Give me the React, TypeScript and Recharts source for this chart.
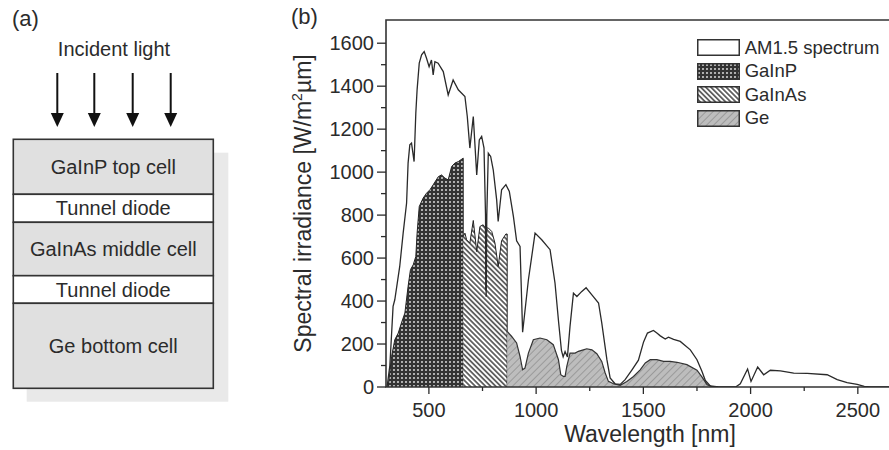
import * as React from 'react';
import {
	ComposedChart,
	Area,
	Line,
	XAxis,
	YAxis,
	ReferenceArea,
	Legend
} from 'recharts';

// AM1.5 spectrum (wavelength in nm, irradiance in W/m2um)
const amWavelength = [
	305, 318, 333, 341, 364, 380, 396, 403, 411, 419, 431, 439, 445, 455, 466,
	478, 489, 501, 512, 520, 528, 543, 567, 590, 613, 637, 668, 679, 691, 707,
	723, 735, 746, 757, 764, 767, 770, 777, 788, 800, 816, 823, 839, 859, 875,
	894, 909, 925, 937, 964, 995, 1026, 1065, 1088, 1105, 1118, 1126, 1135,
	1146, 1158, 1174, 1190, 1213, 1233, 1260, 1291, 1306, 1330, 1345, 1368,
	1392, 1415, 1447, 1477, 1501, 1519, 1547, 1563, 1579, 1602, 1617, 1641,
	1672, 1719, 1750, 1773, 1789, 1812, 1850, 1930, 1952, 1986, 2002, 2033,
	2061, 2092, 2139, 2201, 2264, 2357, 2404, 2450, 2497, 2530, 2560, 2650
];
const amIrradiance = [
	0, 100, 375, 406, 561, 716, 856, 1042, 1127, 1135, 1049, 1274, 1383, 1507,
	1546, 1561, 1530, 1491, 1522, 1452, 1514, 1507, 1468, 1359, 1429, 1383,
	1352, 1259, 1112, 1259, 987, 1150, 1166, 1112, 800, 420, 800, 1088, 1073,
	1011, 871, 770, 918, 942, 910, 794, 680, 654, 255, 499, 716, 685, 639, 484,
	300, 170, 140, 165, 140, 282, 437, 421, 445, 462, 429, 391, 298, 127, 42,
	15, 12, 34, 80, 125, 210, 251, 263, 251, 238, 223, 232, 222, 212, 173, 127,
	73, 30, 5, 0, 0, 15, 84, 26, 93, 57, 78, 75, 65, 63, 57, 34, 20, 12, 3, 0, 0
];

// GaInP top cell share
const gainpWavelength = [
	310, 326, 341, 357, 372, 388, 403, 414, 427, 439, 445, 455, 473, 489, 505,
	520, 544, 559, 575, 590, 606, 621, 637, 660, 660
];
const gainpIrradiance = [
	0, 142, 220, 251, 298, 344, 468, 546, 569, 607, 716, 840, 879, 902, 918,
	941, 979, 987, 972, 964, 1026, 1042, 1049, 1065, 0
];

// GaInAs middle cell share
const gainasWavelength = [
	660, 668, 676, 691, 707, 723, 738, 753, 763, 766, 769, 777, 793, 808, 823,
	839, 859, 865, 865
];
const gainasIrradiance = [
	700, 716, 685, 670, 775, 630, 747, 755, 740, 450, 740, 740, 724, 670, 561,
	681, 712, 712, 0
];

// Ge bottom cell share
const geWavelength = [
	865, 886, 909, 925, 937, 948, 964, 987, 1018, 1050, 1080, 1104, 1115, 1127,
	1135, 1143, 1158, 1182, 1197, 1220, 1236, 1260, 1283, 1306, 1322, 1337,
	1361, 1392, 1423, 1454, 1485, 1509, 1532, 1563, 1594, 1625, 1657, 1703,
	1750, 1773, 1797, 1820, 1850
];
const geIrradiance = [
	259, 235, 205, 142, 80, 88, 158, 220, 228, 220, 197, 127, 57, 49, 49, 96,
	158, 158, 166, 173, 178, 173, 155, 119, 65, 26, 15, 8, 26, 49, 80, 112,
	127, 127, 119, 119, 115, 104, 78, 47, 11, 2, 0
];

const xTicks = [500, 750, 1000, 1250, 1500, 1750, 2000, 2250, 2500];
const yTicks = [
	0, 100, 200, 300, 400, 500, 600, 700, 800, 900, 1000, 1100, 1200, 1300,
	1400, 1500, 1600
];

const legendItems = [
	{ name: 'AM1.5 spectrum', fill: '#fff' },
	{ name: 'GaInP', fill: 'url(#patGaInP)' },
	{ name: 'GaInAs', fill: 'url(#patGaInAs)' },
	{ name: 'Ge', fill: 'url(#patGe)' }
];

const cellLayers = [
	{ label: 'GaInP top cell', top: 139.3, bottom: 194.3, fill: '#e0e0e0' },
	{ label: 'Tunnel diode', top: 194.3, bottom: 222.3, fill: '#fff' },
	{ label: 'GaInAs middle cell', top: 222.3, bottom: 275.7, fill: '#e0e0e0' },
	{ label: 'Tunnel diode', top: 275.7, bottom: 303.3, fill: '#fff' },
	{ label: 'Ge bottom cell', top: 303.3, bottom: 388.3, fill: '#e0e0e0' }
];
const arrowX = [57.3, 94.3, 132.7, 170.7];

const toRows = (wl: number[], val: number[]) =>
	wl.map((w, i) => ({ wl: w, val: val[i] }));

const amRows = toRows(amWavelength, amIrradiance);
const gainpRows = toRows(gainpWavelength, gainpIrradiance);
const gainasRows = toRows(gainasWavelength, gainasIrradiance);
const geRows = toRows(geWavelength, geIrradiance);

const FONT = '"Liberation Sans", Arial, Helvetica, sans-serif';
const INK = '#2b2b2b';

const renderXTick = (props: any) => {
	const { x, y, payload } = props;
	const major = payload.value % 500 === 0;
	return (
		<g>
			<line x1={x} y1={y} x2={x} y2={y + (major ? 7 : 4)} stroke={INK} strokeWidth={1.3} />
			{major && (
				<text x={x} y={y + 29.5} textAnchor="middle" fontSize={20} fill={INK} fontFamily={FONT}>
					{payload.value}
				</text>
			)}
		</g>
	);
};

const renderYTick = (props: any) => {
	const { x, y, payload } = props;
	const major = payload.value % 200 === 0;
	return (
		<g>
			<line x1={x} y1={y} x2={x - (major ? 9 : 5)} y2={y} stroke={INK} strokeWidth={1.3} />
			{major && (
				<text x={x - 12} y={y} dy="0.36em" textAnchor="end" fontSize={20} fill={INK} fontFamily={FONT}>
					{payload.value}
				</text>
			)}
		</g>
	);
};

const XLabel = () => (
	<text x={370} y={442} textAnchor="middle" fontSize={23} fill={INK} fontFamily={FONT}>
		Wavelength [nm]
	</text>
);

const YLabel = () => (
	<text
		transform="translate(31, 203.5) rotate(-90)"
		textAnchor="middle"
		fontSize={23}
		fill={INK}
		fontFamily={FONT}
	>
		Spectral irradiance [W/m
		<tspan dy={-9} fontSize={14}>2</tspan>
		<tspan dy={9}>µm]</tspan>
	</text>
);

const renderLegend = () => (
	<div style={{ fontFamily: FONT, fontSize: 18.5, color: INK }}>
		{legendItems.map(item => (
			<div key={item.name} style={{ display: 'flex', alignItems: 'center', height: 23.4 }}>
				<svg width={43} height={17} style={{ display: 'block' }}>
					<rect x={0.75} y={0.75} width={41.5} height={15.5} fill={item.fill} stroke="#333" strokeWidth={1.5} />
				</svg>
				<span style={{ marginLeft: 5, lineHeight: '20px' }}>{item.name}</span>
			</div>
		))}
	</div>
);

const CellDiagram = () => (
	<svg width={250} height={450} style={{ position: 'absolute', left: 0, top: 0 }} fontFamily={FONT}>
		<text x={12} y={26} fontSize={22} fill={INK}>(a)</text>
		<text x={114} y={56} textAnchor="middle" fontSize={20} fill={INK}>Incident light</text>
		{arrowX.map(x => (
			<g key={x}>
				<line x1={x} y1={73} x2={x} y2={115} stroke="#111" strokeWidth={2} />
				<polygon points={`${x - 6.5},113 ${x + 6.5},113 ${x},127`} fill="#111" />
			</g>
		))}
		<rect x={26.7} y={152.7} width={201.6} height={249} fill="#e9e9e9" />
		{cellLayers.map((l, i) => (
			<g key={i}>
				<rect x={13.3} y={l.top} width={200} height={l.bottom - l.top} fill={l.fill} stroke="#333" strokeWidth={1.6} />
				<text x={113.3} y={(l.top + l.bottom) / 2 + 7} textAnchor="middle" fontSize={20} fill={INK}>
					{l.label}
				</text>
			</g>
		))}
	</svg>
);

export default function App() {
	return (
		<div
			style={{
				position: 'absolute',
				left: 0,
				top: 0,
				width: 889,
				height: 450,
				overflow: 'hidden',
				background: '#fff'
			}}
		>
			<CellDiagram />
			<svg width={40} height={30} style={{ position: 'absolute', left: 286, top: 0 }}>
				<text x={5} y={24} fontSize={22} fill={INK} fontFamily={FONT}>(b)</text>
			</svg>
			<div style={{ position: 'absolute', left: 280, top: 0 }}>
				<ComposedChart
					width={620}
					height={450}
					margin={{ top: 20, right: 10, left: 0, bottom: 0 }}
				>
					<defs>
						<pattern id="patGaInP" width="4" height="4" patternUnits="userSpaceOnUse">
							<rect width="4" height="4" fill="#333" />
							<circle cx="2" cy="2" r="1.05" fill="#d0d0d0" />
						</pattern>
						<pattern
							id="patGaInAs"
							width="3.6"
							height="3.6"
							patternUnits="userSpaceOnUse"
							patternTransform="rotate(45)"
						>
							<rect width="3.6" height="3.6" fill="#fff" />
							<line x1="0" y1="1.8" x2="3.6" y2="1.8" stroke="#333" strokeWidth="1.4" />
						</pattern>
						<pattern
							id="patGe"
							width="5"
							height="5"
							patternUnits="userSpaceOnUse"
							patternTransform="rotate(-45)"
						>
							<rect width="5" height="5" fill="#bdbdbd" />
							<line x1="0" y1="2.5" x2="5" y2="2.5" stroke="#9a9a9a" strokeWidth="1" />
						</pattern>
					</defs>
					<XAxis
						dataKey="wl"
						type="number"
						domain={[300, 2650]}
						allowDataOverflow
						ticks={xTicks}
						interval={0}
						tick={renderXTick}
						tickLine={false}
						axisLine={false}
						tickSize={0}
						tickMargin={0}
						height={63}
						label={<XLabel />}
					/>
					<YAxis
						type="number"
						domain={[0, 1708]}
						allowDataOverflow
						ticks={yTicks}
						interval={0}
						tick={renderYTick}
						tickLine={false}
						axisLine={false}
						tickSize={0}
						tickMargin={0}
						width={106}
						label={<YLabel />}
					/>
					<Area
						data={gainpRows}
						dataKey="val"
						name="GaInP"
						type="linear"
						fill="url(#patGaInP)"
						fillOpacity={1}
						stroke="#222"
						strokeWidth={1}
						dot={false}
						activeDot={false}
						isAnimationActive={false}
					/>
					<Area
						data={gainasRows}
						dataKey="val"
						name="GaInAs"
						type="linear"
						fill="url(#patGaInAs)"
						fillOpacity={1}
						stroke="#222"
						strokeWidth={1}
						dot={false}
						activeDot={false}
						isAnimationActive={false}
					/>
					<Area
						data={geRows}
						dataKey="val"
						name="Ge"
						type="linear"
						fill="url(#patGe)"
						fillOpacity={1}
						stroke="#333"
						strokeWidth={1.2}
						dot={false}
						activeDot={false}
						isAnimationActive={false}
					/>
					<Line
						data={amRows}
						dataKey="val"
						name="AM1.5 spectrum"
						type="linear"
						stroke="#2a2a2a"
						strokeWidth={1.3}
						dot={false}
						activeDot={false}
						isAnimationActive={false}
					/>
					<ReferenceArea
						x1={300}
						x2={2650}
						y1={0}
						y2={1708}
						fill="none"
						stroke="#333"
						strokeWidth={1.6}
						ifOverflow="visible"
					/>
					<Legend
						layout="vertical"
						align="center"
						verticalAlign="middle"
						content={renderLegend}
						wrapperStyle={{ position: 'absolute', left: 416.7, top: 36.3, width: 200 }}
					/>
				</ComposedChart>
			</div>
		</div>
	);
}
